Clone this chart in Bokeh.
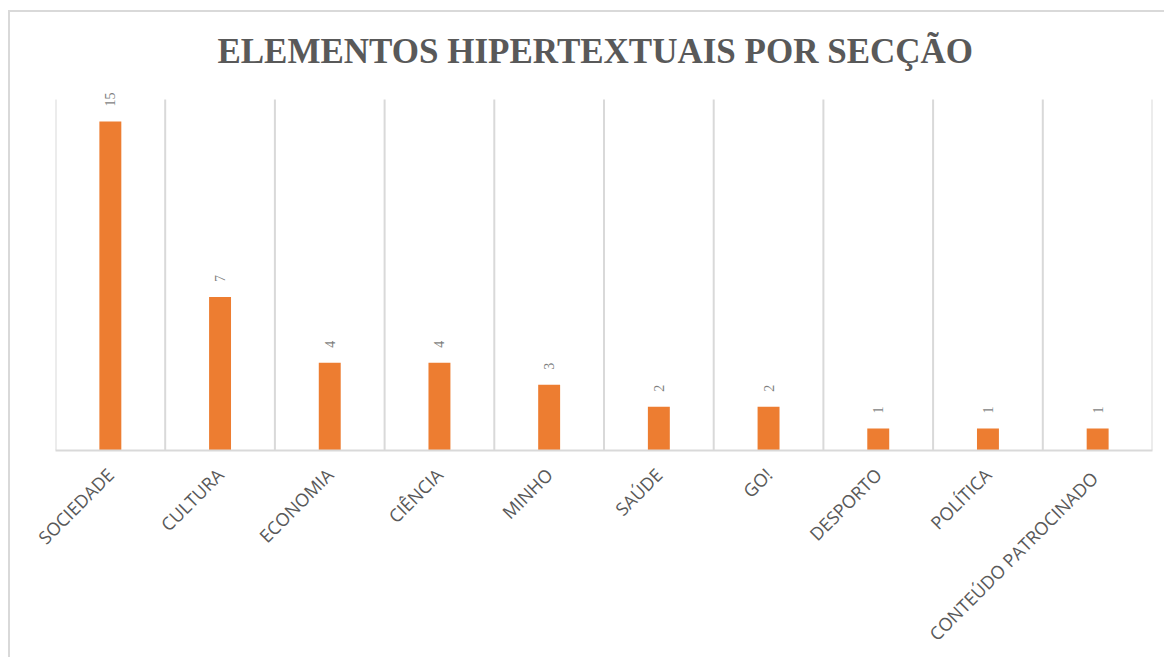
import math
from bokeh.plotting import figure
from bokeh.models import ColumnDataSource, FactorRange, Range1d, LabelSet, Label, Styles
from bokeh.embed import file_html
from bokeh.resources import INLINE

categories = ["SOCIEDADE", "CULTURA", "ECONOMIA", "CIÊNCIA", "MINHO", "SAÚDE",
              "GO!", "DESPORTO", "POLÍTICA", "CONTEÚDO  PATROCINADO"]
counts = [15, 7, 4, 4, 3, 2, 2, 1, 1, 1]
labels = [str(c) for c in counts]
title_text = "ELEMENTOS  HIPERTEXTUAIS  POR SECÇÃO"
grid_top = 16

n = len(categories)
src = ColumnDataSource(dict(cat=categories, y=counts, label=labels))
bounds = list(range(n + 1))
grid_src = ColumnDataSource(dict(x=bounds, y0=[0] * len(bounds), y1=[grid_top] * len(bounds)))

frame_styles = Styles(margin_left="10px", margin_top="12px",
                      box_shadow="-2px -2px 0 0 #d9d9d9")

p = figure(width=1156, height=647, output_backend="svg", toolbar_location=None,
           x_range=FactorRange(*categories), y_range=Range1d(0, 19.97),
           min_border_left=45, min_border_right=14, min_border_top=0,
           min_border_bottom=209, styles=frame_styles)
p.outline_line_color = None
p.background_fill_color = "white"
p.border_fill_color = "white"
p.xgrid.grid_line_color = None
p.ygrid.grid_line_color = None
p.yaxis.visible = False

p.segment(x0="x", y0="y0", x1="x", y1="y1", source=grid_src,
          line_color="#d9d9d9", line_width=2)

p.vbar(x="cat", top="y", width=0.2, source=src, fill_color="#ED7D31",
       line_color=None)

p.add_layout(LabelSet(x="cat", y="y", text="label", source=src, angle=math.pi / 2,
                      text_align="left", text_baseline="middle", y_offset=15,
                      text_font="Open Sans", text_font_size="14px",
                      text_color="#7f7f7f"))

p.add_layout(Label(x=n / 2, y=18.17, text=title_text, x_offset=0,
                   text_align="center", text_baseline="alphabetic",
                   text_font="Liberation Serif", text_font_style="bold",
                   text_font_size="35px", text_color="#595959"))

xa = p.xaxis[0]
xa.axis_line_color = "#d9d9d9"
xa.axis_line_width = 2
xa.major_tick_line_color = None
xa.minor_tick_line_color = None
xa.major_label_orientation = math.pi / 4
xa.major_label_standoff = 15
xa.major_label_text_font = "Open Sans"
xa.major_label_text_font_size = "18px"
xa.major_label_text_color = "#595959"

open("out.html", "w").write(file_html(p, INLINE))
